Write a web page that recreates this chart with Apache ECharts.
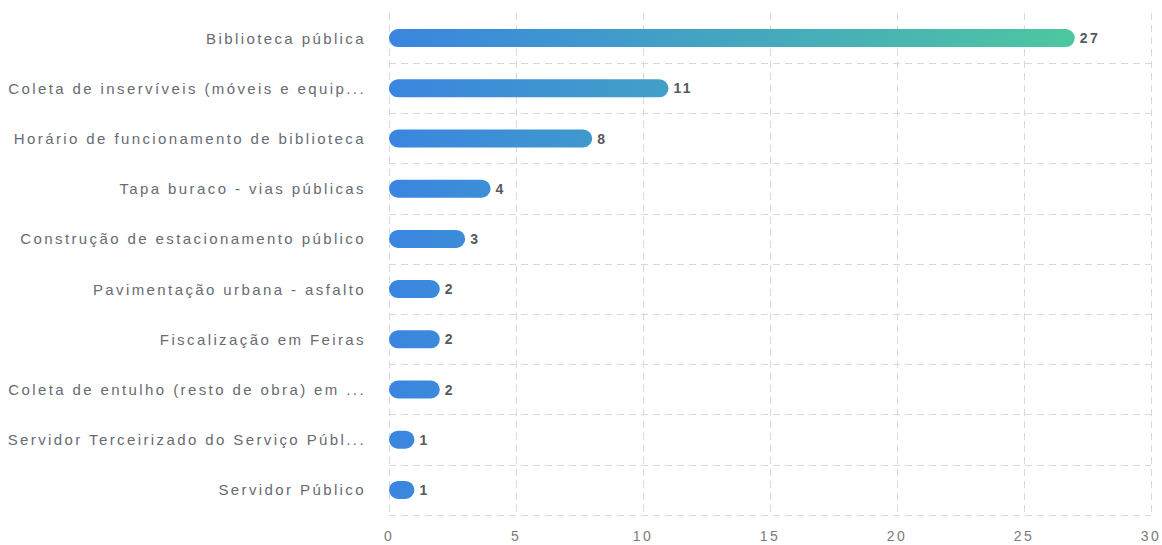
<!DOCTYPE html>
<html>
<head>
<meta charset="utf-8">
<script src="https://cdn.jsdelivr.net/npm/echarts@6/dist/echarts.min.js"></script>
<style>
  html, body { margin: 0; padding: 0; background: #fff; }
  #chart { width: 1162px; height: 545px; }
  #chart svg text { letter-spacing: 2.4px; }
</style>
</head>
<body>
<div id="chart"></div>
<script>
const categories = [
  'Biblioteca pública',
  'Coleta de inservíveis (móveis e equip...',
  'Horário de funcionamento de biblioteca',
  'Tapa buraco - vias públicas',
  'Construção de estacionamento público',
  'Pavimentação urbana - asfalto',
  'Fiscalização em Feiras',
  'Coleta de entulho (resto de obra) em ...',
  'Servidor Terceirizado do Serviço Públ...',
  'Servidor Público'
];
const values = [27, 11, 8, 4, 3, 2, 2, 2, 1, 1];
const xTicks = { min: 0, max: 30, interval: 5 };

const chart = echarts.init(document.getElementById('chart'), null, { renderer: 'svg' });
chart.setOption({
  animation: false,
  grid: { left: 389, right: 11, top: 13, bottom: 30, containLabel: false },
  xAxis: {
    type: 'value',
    min: xTicks.min, max: xTicks.max, interval: xTicks.interval,
    axisLine: { show: false },
    axisTick: { show: false },
    axisLabel: { color: '#7a7a7a', fontSize: 14, fontFamily: 'Liberation Sans, Arial, sans-serif', margin: 14 },
    splitLine: { show: true, lineStyle: { color: '#d9d9d9', type: [7, 5], width: 1 } }
  },
  yAxis: {
    type: 'category',
    data: categories,
    inverse: true,
    axisLine: { show: false },
    axisTick: { show: false },
    axisLabel: { color: '#676b72', fontSize: 15, fontFamily: 'Liberation Sans, Arial, sans-serif', margin: 23 },
    splitLine: {
      show: true,
      interval: function (index) { return index !== 0; },
      lineStyle: { color: '#d9d9d9', type: [7, 5], width: 1 }
    }
  },
  series: [{
    type: 'bar',
    data: values,
    barWidth: 18,
    itemStyle: {
      borderRadius: 9,
      color: {
        type: 'linear', x: 389, y: 0, x2: 1075, y2: 0, global: true,
        colorStops: [
          { offset: 0, color: '#3a85e0' },
          { offset: 1, color: '#4dc7a0' }
        ]
      }
    },
    label: {
      show: true,
      position: 'right',
      distance: 5,
      color: '#555a60',
      fontSize: 14,
      fontWeight: 'bold',
      fontFamily: 'Liberation Sans, Arial, sans-serif'
    }
  }]
});
</script>
</body>
</html>
